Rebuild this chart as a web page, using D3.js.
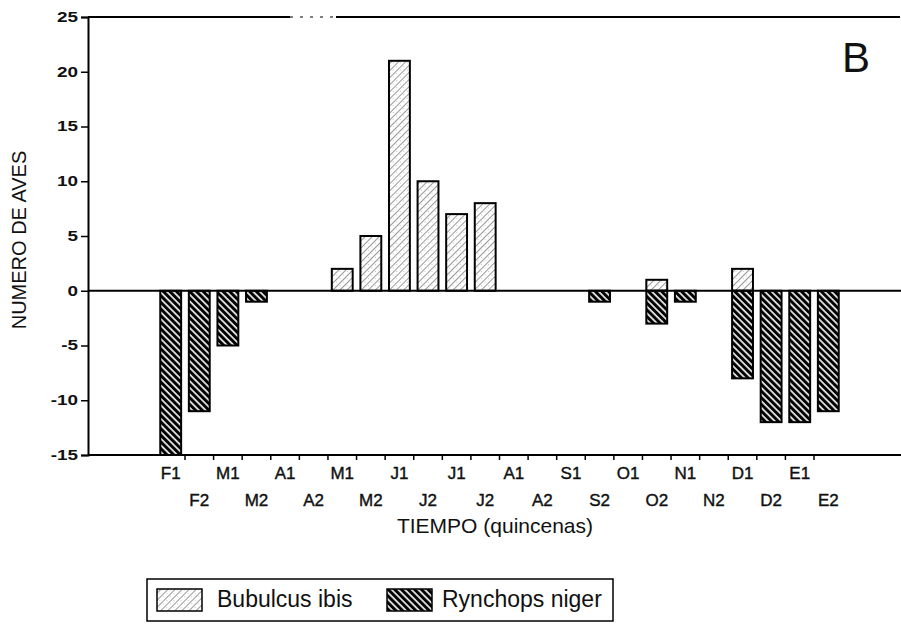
<!DOCTYPE html>
<html>
<head>
<meta charset="utf-8">
<script src="https://cdn.jsdelivr.net/npm/d3@7"></script>
<style>
  body { margin: 0; background: #fff; }
  svg text { font-family: "Liberation Sans", Arial, Helvetica, sans-serif; fill: #111; }
</style>
</head>
<body>
<svg id="chart" width="901" height="624"></svg>
<script>
// quincenas (two per month), Feb .. Jan
const periods = ["F1", "F2", "M1", "M2", "A1", "A2", "M1", "M2", "J1", "J2", "J1", "J2",
  "A1", "A2", "S1", "S2", "O1", "O2", "N1", "N2", "D1", "D2", "E1", "E2"];
const bubulcus = [0, 0, 0, 0, 0, 0, 2, 5, 21, 10, 7, 8, 0, 0, 0, 0, 0, 1, 0, 0, 2, 0, 0, 0];
const rynchops = [-15, -11, -5, -1, 0, 0, 0, 0, 0, 0, 0, 0, 0, 0, 0, -1, 0, -3, -1, 0, -8, -12, -12, -11];
const yTicks = [-15, -10, -5, 0, 5, 10, 15, 20, 25];
const seriesNames = ["Bubulcus ibis", "Rynchops niger"];

const svg = d3.select("#chart");
const plotLeft = 88, plotTop = 17, plotBottom = 455, plotRight = 900;

const x = d3.scaleBand()
  .domain(d3.range(periods.length))
  .range([156.4, 842.6])
  .paddingInner(0.27)
  .paddingOuter(0.135);

const y = d3.scaleLinear().domain([-15, 25]).range([plotBottom, plotTop]);

// patterns
const defs = svg.append("defs");

const pB = defs.append("pattern")
  .attr("id", "hatchB")
  .attr("patternUnits", "userSpaceOnUse")
  .attr("width", 5).attr("height", 5)
  .attr("patternTransform", "rotate(45)");
pB.append("rect").attr("width", 5).attr("height", 5).attr("fill", "#fff");
pB.append("line")
  .attr("x1", 0).attr("y1", 0).attr("x2", 0).attr("y2", 5)
  .attr("stroke", "#333").attr("stroke-width", 1);
pB.append("circle").attr("cx", 2.5).attr("cy", 1.5).attr("r", 0.4).attr("fill", "#777");

const pR = defs.append("pattern")
  .attr("id", "hatchR")
  .attr("patternUnits", "userSpaceOnUse")
  .attr("width", 4.7).attr("height", 4.7)
  .attr("patternTransform", "rotate(-45)");
pR.append("rect").attr("width", 4.7).attr("height", 4.7).attr("fill", "#000");
pR.append("line")
  .attr("x1", 1).attr("y1", 0).attr("x2", 1).attr("y2", 4.7)
  .attr("stroke", "#fff").attr("stroke-width", 1.6);

// bars
const barsB = periods.map((p, i) => ({ i, v: bubulcus[i] })).filter(d => d.v !== 0);
const barsR = periods.map((p, i) => ({ i, v: rynchops[i] })).filter(d => d.v !== 0);

function drawBars(data, fill) {
  svg.append("g").selectAll("rect")
    .data(data)
    .join("rect")
    .attr("x", d => x(d.i))
    .attr("width", x.bandwidth())
    .attr("y", d => y(Math.max(0, d.v)))
    .attr("height", d => Math.abs(y(d.v) - y(0)))
    .attr("fill", fill)
    .attr("stroke", "#000")
    .attr("stroke-width", 2);
}
drawBars(barsB, "url(#hatchB)");
drawBars(barsR, "url(#hatchR)");

// frame lines (top rule is broken in the original scan)
const lines = [
  [plotLeft, plotTop, 290, plotTop],
  [336, plotTop, plotRight, plotTop],
  [plotLeft, y(0), 901, y(0)],
  [plotLeft, plotBottom, 901, plotBottom]
];
svg.append("g").selectAll("line")
  .data(lines)
  .join("line")
  .attr("x1", d => d[0]).attr("y1", d => d[1])
  .attr("x2", d => d[2]).attr("y2", d => d[3])
  .attr("stroke", "#000").attr("stroke-width", 2);
svg.append("line")
  .attr("x1", 290).attr("x2", 336)
  .attr("y1", plotTop).attr("y2", plotTop)
  .attr("stroke", "#000").attr("stroke-width", 1)
  .attr("stroke-dasharray", "3,7");

// y axis
const yAxis = svg.append("g")
  .attr("transform", `translate(${plotLeft},0)`)
  .call(d3.axisLeft(y).tickValues(yTicks).tickSize(7).tickPadding(3).tickFormat(d => String(d)));
yAxis.select(".domain").attr("stroke-width", 2);
yAxis.selectAll(".tick line").attr("stroke-width", 1.5);
yAxis.selectAll("text")
  .attr("font-size", 14)
  .attr("font-weight", "bold")
  .attr("x", -10 / 1.35)
  .attr("transform", "scale(1.35,1)")
  .style("font-family", "'Liberation Sans', Arial, sans-serif");

// x ticks between bands
const step = x.step();
svg.append("g").selectAll("line")
  .data(d3.range(periods.length - 1))
  .join("line")
  .attr("x1", i => x(i) + x.bandwidth() / 2 + step / 2)
  .attr("x2", i => x(i) + x.bandwidth() / 2 + step / 2)
  .attr("y1", plotBottom).attr("y2", plotBottom + 5)
  .attr("stroke", "#000").attr("stroke-width", 1.5);

// x labels, staggered in two rows
svg.append("g").selectAll("text")
  .data(periods)
  .join("text")
  .attr("x", (p, i) => x(i) + x.bandwidth() / 2)
  .attr("y", (p, i) => i % 2 === 0 ? 479 : 506)
  .attr("text-anchor", "middle")
  .attr("font-size", 17)
  .attr("stroke", "#111").attr("stroke-width", 0.4)
  .text(p => p);

// axis titles
svg.append("text")
  .attr("x", 495).attr("y", 533)
  .attr("text-anchor", "middle")
  .attr("font-size", 21)
  .text("TIEMPO (quincenas)");

svg.append("text")
  .attr("transform", "translate(26,240) rotate(-90)")
  .attr("text-anchor", "middle")
  .attr("font-size", 20)
  .text("NUMERO DE AVES");

svg.append("text")
  .attr("x", 842).attr("y", 72)
  .attr("font-size", 42)
  .text("B");

// legend
const legend = svg.append("g");
legend.append("rect")
  .attr("x", 147).attr("y", 579).attr("width", 466).attr("height", 42)
  .attr("fill", "none").attr("stroke", "#000").attr("stroke-width", 1.5);

const legendItems = [
  { name: seriesNames[0], fill: "url(#hatchB)", sx: 157, tx: 217 },
  { name: seriesNames[1], fill: "url(#hatchR)", sx: 387, tx: 442 }
];
legend.selectAll("rect.sw")
  .data(legendItems)
  .join("rect")
  .attr("class", "sw")
  .attr("x", d => d.sx).attr("y", 589)
  .attr("width", 45).attr("height", 22)
  .attr("fill", d => d.fill)
  .attr("stroke", "#000").attr("stroke-width", 1.5);
legend.selectAll("text")
  .data(legendItems)
  .join("text")
  .attr("x", d => d.tx).attr("y", 607)
  .attr("font-size", 23)
  .text(d => d.name);
</script>
</body>
</html>
